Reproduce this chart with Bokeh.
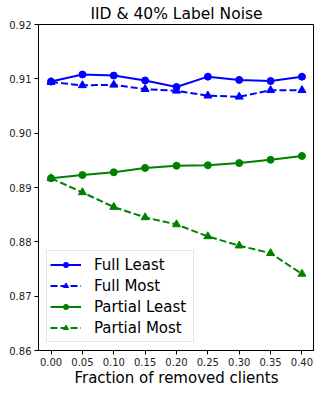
from bokeh.plotting import figure
from bokeh.models import Range1d, FixedTicker, NumeralTickFormatter, Legend, LegendItem
from bokeh.embed import file_html
from bokeh.resources import INLINE

fractions = [0.00, 0.05, 0.10, 0.15, 0.20, 0.25, 0.30, 0.35, 0.40]
full_least = [0.9095, 0.9108, 0.9106, 0.9097, 0.9085, 0.9104, 0.9098, 0.9096, 0.9104]
full_most = [0.9094, 0.9088, 0.9089, 0.9081, 0.9078, 0.9069, 0.9067, 0.9079, 0.9079]
partial_least = [0.8917, 0.8923, 0.8928, 0.8936, 0.8940, 0.8941, 0.8945, 0.8951, 0.8958]
partial_most = [0.8917, 0.8891, 0.8864, 0.8845, 0.8832, 0.8810, 0.8793, 0.8779, 0.8741]
x_ticks = [0.00, 0.05, 0.10, 0.15, 0.20, 0.25, 0.30, 0.35, 0.40]
y_ticks = [0.86, 0.87, 0.88, 0.89, 0.90, 0.91, 0.92]

FONT = "DejaVu Sans"
BLUE = "#0000ff"
GREEN = "#008000"

p = figure(frame_width=276, frame_height=326, output_backend="svg",
           toolbar_location=None, x_range=Range1d(-0.02, 0.42),
           y_range=Range1d(0.86, 0.92), title="IID & 40% Label Noise",
           min_border_left=38, min_border_right=0, min_border_top=21,
           min_border_bottom=0)

p.title.text_font = FONT
p.title.text_font_size = "15.5px"
p.title.text_font_style = "normal"
p.title.text_color = "black"
p.title.align = "center"
p.title.standoff = 4

p.xgrid.visible = False
p.ygrid.visible = False
p.outline_line_color = "black"
p.outline_line_width = 1
p.background_fill_color = "white"
p.border_fill_color = "white"

for ax in (p.xaxis[0], p.yaxis[0]):
    ax.axis_line_color = "black"
    ax.major_tick_line_color = "black"
    ax.major_tick_out = 4
    ax.major_tick_in = 0
    ax.minor_tick_line_color = None
    ax.major_label_text_font = FONT
    ax.major_label_text_font_size = "10px"
    ax.major_label_text_color = "#222222"
    ax.major_label_standoff = 3
    ax.formatter = NumeralTickFormatter(format="0.00")

p.xaxis.ticker = FixedTicker(ticks=x_ticks)
p.yaxis.ticker = FixedTicker(ticks=y_ticks)
p.xaxis.axis_label = "Fraction of removed clients"
p.xaxis.axis_label_text_font = FONT
p.xaxis.axis_label_text_font_size = "15px"
p.xaxis.axis_label_text_font_style = "normal"
p.xaxis.axis_label_text_color = "black"
p.xaxis.axis_label_standoff = 0

series = [
    ("Full Least", full_least, BLUE, "solid", "circle", 7),
    ("Full Most", full_most, BLUE, "7 3", "triangle", 8),
    ("Partial Least", partial_least, GREEN, "solid", "circle", 7),
    ("Partial Most", partial_most, GREEN, "7 3", "triangle", 8),
]

items = []
for name, ys, color, dash, marker, size in series:
    r1 = p.line(fractions, ys, line_color=color, line_width=2, line_dash=dash)
    r2 = p.scatter(fractions, ys, marker=marker, size=size, fill_color=color,
                   line_color=color)
    items.append(LegendItem(label=name, renderers=[r1, r2]))

legend = Legend(items=items, location=(8, 8))
legend.label_text_font = FONT
legend.label_text_font_size = "15px"
legend.label_text_color = "black"
legend.label_height = 21
legend.glyph_height = 13
legend.glyph_width = 31
legend.label_standoff = 13
legend.label_width = 96
legend.spacing = 0
legend.padding = 3
legend.margin = 0
legend.border_line_color = "#cccccc"
legend.border_line_width = 1
legend.background_fill_alpha = 0.8
p.add_layout(legend, "center")

open("out.html", "w").write(file_html(p, INLINE))
